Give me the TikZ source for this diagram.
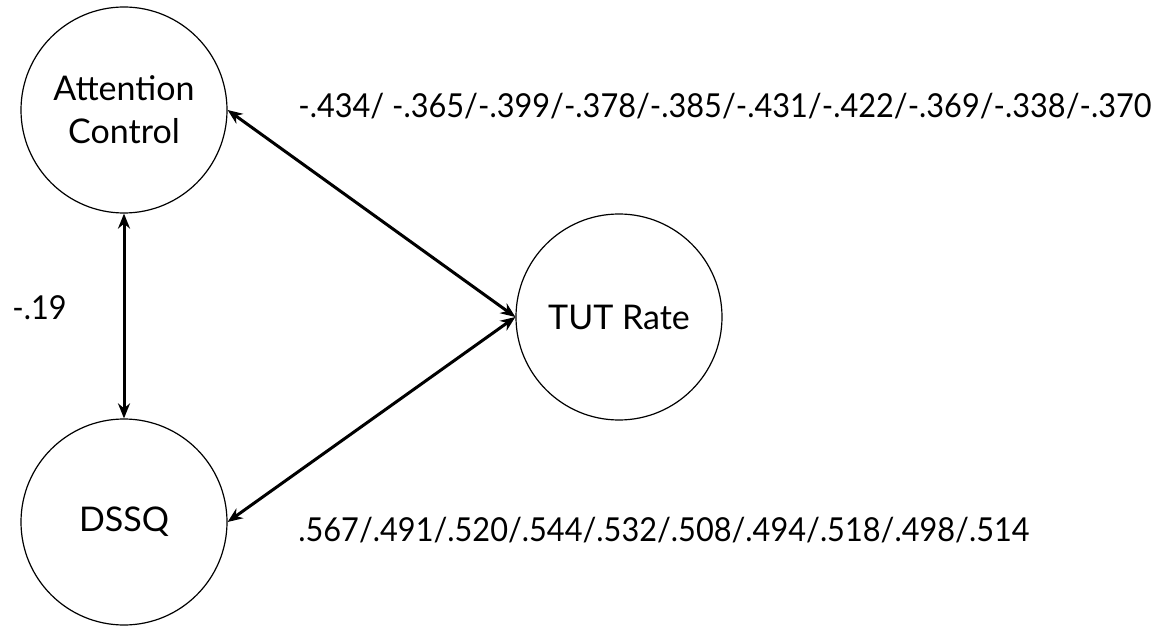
\documentclass[tikz,border=0pt]{standalone}
\usepackage{fontspec}
\setmainfont{Lato}
\newfontfamily\narrowlato[FakeStretch=0.93]{Lato}
\usetikzlibrary{arrows.meta}
\begin{document}
\begin{tikzpicture}[x=0.5pt,y=-0.5pt,
  latent/.style={circle,draw,line width=0.6pt,minimum size=103pt,inner sep=0pt,align=center,font=\fontsize{17}{21.5}\selectfont},
  link/.style={line width=1.5pt,{Stealth[length=7.5pt,width=6pt]}-{Stealth[length=7.5pt,width=6pt]}},
  lab/.style={font=\narrowlato\fontsize{16.5}{20}\selectfont,inner sep=0pt}]
\useasboundingbox (0,0) rectangle (1153,626);
\node[latent] (ac) at (124,110) {Attention\\Control};
\node[latent] (dssq) at (124,522) {DSSQ};
\node[latent] (tut) at (619,317) {TUT Rate};
\draw[link] (ac.south) -- (dssq.north);
\draw[link] (ac.east) -- (tut.west);
\draw[link] (dssq.east) -- (tut.west);
\node[lab,anchor=west] (l1) at (298,106) {-.434/ -.365/-.399/-.378/-.385/-.431/-.422/-.369/-.338/-.370};
\node[lab,anchor=west] (l2) at (298,530) {.567/.491/.520/.544/.532/.508/.494/.518/.498/.514};
\node[lab,anchor=west] (l3) at (12,308) {-.19};
\end{tikzpicture}
\end{document}
